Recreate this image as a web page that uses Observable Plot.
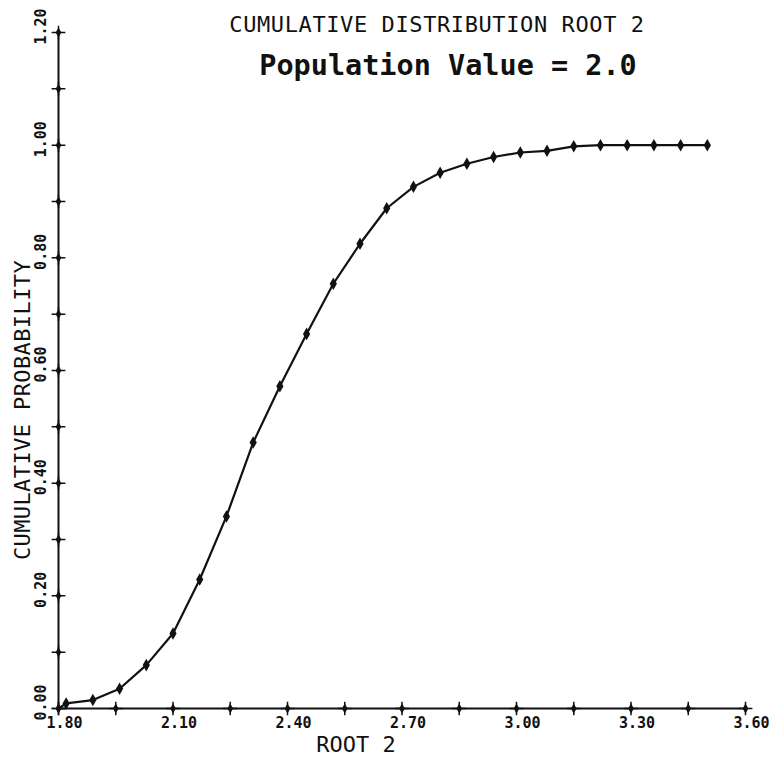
<!DOCTYPE html>
<html>
<head>
<meta charset="utf-8">
<script src="https://cdn.jsdelivr.net/npm/d3@7"></script>
<script src="https://cdn.jsdelivr.net/npm/@observablehq/plot@0.6"></script>
<style>
  body { margin: 0; background: #fff; }
  #wrap { position: relative; width: 772px; height: 761px; background: #fff; }
  .t { position: absolute; white-space: pre; font-family: "DejaVu Sans Mono", monospace; color: #111; text-align: center; }
</style>
</head>
<body>
<div id="wrap">
  <div id="chart"></div>
  <div class="t" style="left:51px; width:772px; top:14px; font-size:22px; line-height:22px; letter-spacing:0.6px;">CUMULATIVE DISTRIBUTION ROOT 2</div>
  <div class="t" style="left:62px; width:772px; top:52px; font-size:28.5px; line-height:28px; font-weight:bold;">Population Value = 2.0</div>
  <div class="t" style="left:-30px; width:772px; top:734px; font-size:22px; line-height:22px;">ROOT 2</div>
  <div class="t" style="left:-177px; width:400px; top:399px; font-size:22px; line-height:22px; letter-spacing:0.4px; transform:rotate(-90deg); transform-origin:center;">CUMULATIVE PROBABILITY</div>
</div>
<script>
// Data
const root2 = [1.80, 1.82, 1.89, 1.96, 2.03, 2.10, 2.17, 2.24, 2.31, 2.38, 2.45, 2.52, 2.59, 2.66,
               2.73, 2.80, 2.87, 2.94, 3.01, 3.08, 3.15, 3.22, 3.29, 3.36, 3.43, 3.50];
const cumProb = [0.000, 0.009, 0.015, 0.035, 0.077, 0.133, 0.229, 0.341, 0.472, 0.572, 0.665, 0.754, 0.825, 0.888,
                 0.926, 0.951, 0.967, 0.979, 0.987, 0.990, 0.998, 1.000, 1.000, 1.000, 1.000, 1.000];
const xTickLabels = [1.80, 2.10, 2.40, 2.70, 3.00, 3.30, 3.60];
const xTickMarks = [1.80, 1.95, 2.10, 2.25, 2.40, 2.55, 2.70, 2.85, 3.00, 3.15, 3.30, 3.45, 3.60];
const yTickLabels = [0.00, 0.20, 0.40, 0.60, 0.80, 1.00, 1.20];
const yTickMarks = [0.0, 0.1, 0.2, 0.3, 0.4, 0.5, 0.6, 0.7, 0.8, 0.9, 1.0, 1.1, 1.2];
const xDomain = [1.80, 3.60];
const yDomain = [0, 1.20];

const data = root2.map((x, i) => ({x, y: cumProb[i]}));
const fmt = d3.format(".2f");
const ink = "#111";

const chart = Plot.plot({
  width: 772,
  height: 761,
  marginLeft: 58,
  marginRight: 27,
  marginTop: 32,
  marginBottom: 53,
  style: {fontFamily: "DejaVu Sans Mono, monospace", fontSize: "15px", background: "white", color: ink},
  x: {domain: xDomain},
  y: {domain: yDomain},
  marks: [
    // axis lines
    Plot.ruleX([xDomain[0]], {y1: yDomain[0], y2: yDomain[1], stroke: ink, strokeWidth: 2}),
    Plot.ruleY([yDomain[0]], {x1: xDomain[0], x2: xDomain[1], stroke: ink, strokeWidth: 2}),
    // cross ticks on axes
    Plot.dot(yTickMarks, {y: d => d, frameAnchor: "left", symbol: "plus", r: 4.5, stroke: ink, strokeWidth: 1.5}),
    Plot.dot(yTickMarks, {y: d => d, frameAnchor: "left", symbol: "diamond", r: 3, fill: ink}),
    Plot.dot(xTickMarks, {x: d => d, frameAnchor: "bottom", symbol: "plus", r: 4.5, stroke: ink, strokeWidth: 1.5}),
    Plot.dot(xTickMarks, {x: d => d, frameAnchor: "bottom", symbol: "diamond", r: 3, fill: ink}),
    // tick labels
    Plot.axisX({ticks: xTickLabels, tickSize: 0, tickPadding: 9, dx: 6, tickFormat: fmt, fontWeight: "bold", fontSize: 15, fill: ink, label: null}),
    Plot.axisY({ticks: yTickLabels, tickSize: 0, tickPadding: 13, tickRotate: -90, dy: -6, tickFormat: fmt, fontWeight: "bold", fontSize: 15, fill: ink, label: null}),
    // the curve
    Plot.line(data, {x: "x", y: "y", stroke: ink, strokeWidth: 2.2}),
    Plot.dot(data.slice(1), {x: "x", y: "y", symbol: "diamond", r: 3.8, fill: ink})
  ]
});
document.getElementById("chart").appendChild(chart);
</script>
</body>
</html>
